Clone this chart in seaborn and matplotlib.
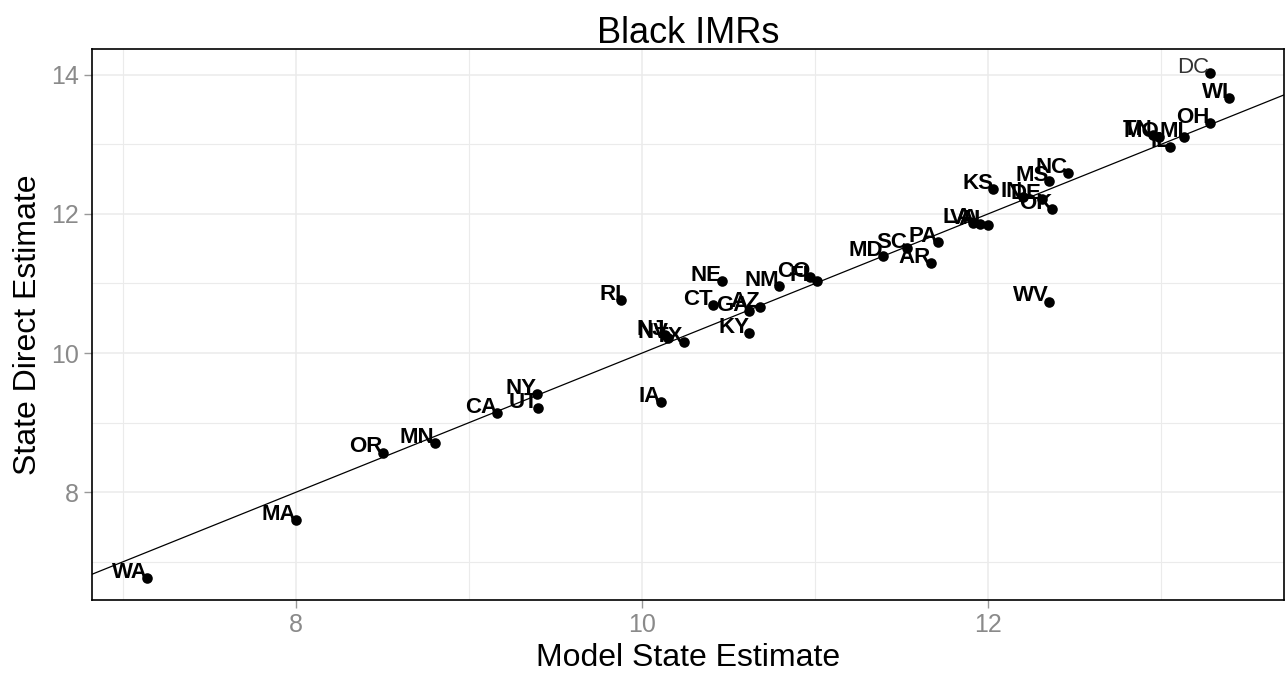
import matplotlib
matplotlib.use("Agg")
import matplotlib.pyplot as plt
from matplotlib.ticker import MultipleLocator
import seaborn as sns
import pandas as pd

states = ["WA", "MA", "OR", "MN", "CA", "NY", "UT", "IA", "RI", "NJ", "NV", "TX",
          "NE", "CT", "GA", "AZ", "KY", "NM", "CO", "FL", "MD", "SC", "AR", "PA",
          "LA", "VA", "AL", "KS", "MS", "NC", "IN", "DE", "OK", "WV", "TN", "MO",
          "IL", "MI", "DC", "WI", "OH"]
model_est = [7.14, 8.00, 8.50, 8.80, 9.16, 9.39, 9.40, 10.11, 9.88, 10.13, 10.15, 10.24,
             10.46, 10.41, 10.62, 10.68, 10.62, 10.79, 10.97, 11.01, 11.39, 11.53, 11.67, 11.71,
             11.91, 11.95, 12.00, 12.03, 12.35, 12.46, 12.20, 12.31, 12.37, 12.35, 12.95, 12.99,
             13.05, 13.13, 13.28, 13.39, 13.28]
direct_est = [6.77, 7.60, 8.57, 8.70, 9.14, 9.41, 9.21, 9.30, 10.76, 10.26, 10.21, 10.16,
              11.03, 10.69, 10.60, 10.66, 10.29, 10.96, 11.09, 11.04, 11.39, 11.51, 11.30, 11.60,
              11.87, 11.86, 11.84, 12.36, 12.47, 12.59, 12.24, 12.21, 12.07, 10.74, 13.13, 13.11,
              12.96, 13.11, 14.03, 13.67, 13.30]

df = pd.DataFrame({"state": states, "model": model_est, "direct": direct_est})

sns.set_theme(style="white")
plt.rcParams["font.family"] = ["Liberation Sans", "DejaVu Sans"]

fig = plt.figure(figsize=(12.88, 6.92), dpi=100)
ax = fig.add_axes([92 / 1288, 1 - 600 / 692, (1284 - 92) / 1288, (600 - 49) / 692])

grid_c = "#ebebeb"
ax.set_xlim(6.82, 13.71)
ax.set_ylim(6.45, 14.37)
ax.xaxis.set_major_locator(MultipleLocator(2))
ax.yaxis.set_major_locator(MultipleLocator(2))
ax.xaxis.set_minor_locator(MultipleLocator(1))
ax.yaxis.set_minor_locator(MultipleLocator(1))
ax.grid(True, which="major", color=grid_c, linewidth=1.1)
ax.grid(True, which="minor", color=grid_c, linewidth=0.8)
ax.set_axisbelow(True)

ax.axline((7, 7), slope=1, color="black", linewidth=0.9, zorder=2)

sns.scatterplot(data=df, x="model", y="direct", ax=ax, color="black", s=58,
                edgecolor="black", linewidth=0, zorder=3, legend=False)

for s, xv, yv in zip(states, model_est, direct_est):
    if s == "DC":
        ax.annotate(s, (xv, yv), xytext=(0, 4), textcoords="offset points",
                    ha="right", va="center", fontsize=16, color="#333333", zorder=4)
    else:
        ax.annotate(s, (xv, yv), xytext=(0, 4), textcoords="offset points",
                    ha="right", va="center", fontsize=16, fontweight="bold",
                    color="black", zorder=4)

for sp in ax.spines.values():
    sp.set_color("black")
    sp.set_linewidth(1.2)

ax.tick_params(axis="both", which="major", length=6, width=1, color="#999999",
               labelcolor="#8a8a8a", labelsize=18, direction="out", bottom=True, left=True)
ax.tick_params(axis="both", which="minor", length=0)

ax.set_title("Black IMRs", fontsize=26, color="black", pad=4)
ax.set_xlabel("Model State Estimate", fontsize=23, color="black", labelpad=4)
ax.set_ylabel("State Direct Estimate", fontsize=23, color="black", labelpad=6)

fig.savefig("out.png", dpi=100)
